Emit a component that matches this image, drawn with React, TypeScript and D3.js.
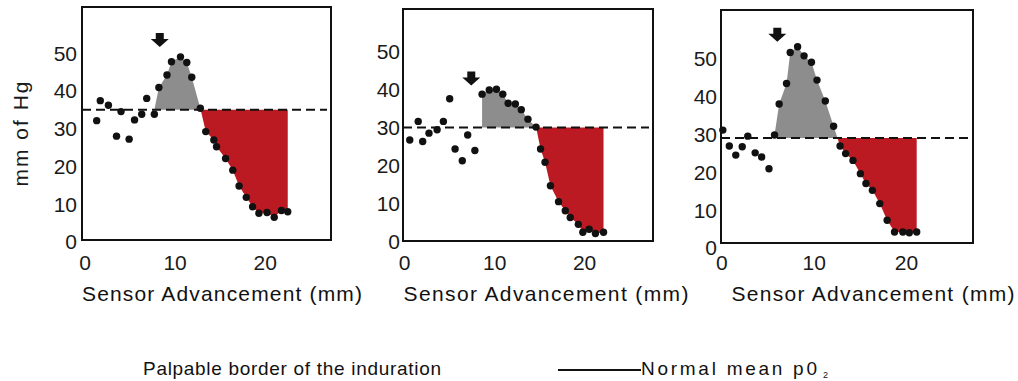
import React from "react";
import * as d3 from "d3";

// ---------- data ----------
const panel1X = [1.3, 1.7, 2.6, 3.5, 4.0, 4.9, 5.5, 6.3, 6.85, 7.7, 8.2, 9.1, 9.6, 10.6, 11.3, 11.85, 12.8, 13.4, 14.3, 14.6, 15.6, 16.4, 17.1, 17.9, 18.6, 19.3, 20.2, 21.0, 21.8, 22.5];
const panel1Y = [32.1, 37.4, 36.2, 28.0, 34.5, 27.2, 32.3, 33.8, 38.0, 33.8, 40.9, 44.2, 47.7, 49.0, 47.5, 43.6, 35.4, 29.2, 27.0, 25.2, 22.1, 19.0, 14.8, 11.8, 9.3, 7.6, 7.8, 6.5, 8.3, 8.0];

const panel2X = [0.56, 1.5, 2.0, 2.7, 3.6, 4.3, 5.0, 5.6, 6.4, 7.0, 7.8, 8.6, 9.4, 10.2, 10.9, 11.5, 12.3, 12.96, 13.7, 14.6, 15.1, 15.6, 16.2, 17.1, 17.85, 18.4, 19.3, 19.8, 20.5, 21.2, 22.1];
const panel2Y = [26.7, 31.6, 26.3, 28.5, 29.4, 31.6, 37.6, 24.3, 21.2, 28.0, 23.9, 38.8, 39.9, 40.1, 38.8, 36.4, 36.2, 34.7, 32.2, 30.1, 24.3, 20.8, 14.6, 10.4, 8.0, 6.2, 4.4, 2.3, 3.1, 2.0, 2.3];

const panel3X = [0.1, 0.8, 1.5, 2.2, 2.8, 3.6, 4.3, 5.1, 5.7, 6.2, 7.0, 7.4, 8.2, 8.9, 9.7, 10.3, 11.2, 12.1, 12.8, 13.4, 14.2, 15.0, 15.6, 16.3, 17.1, 17.9, 18.7, 19.6, 20.3, 21.1];
const panel3Y = [31.1, 26.9, 24.5, 26.7, 29.5, 25.1, 24.0, 20.9, 29.8, 38.0, 43.4, 51.6, 53.1, 50.7, 49.0, 44.3, 38.8, 32.1, 26.9, 24.9, 23.1, 19.6, 17.0, 15.2, 11.7, 7.3, 4.2, 4.2, 4.0, 4.2];

const normalMean = [35, 30, 29];
const greyStartMm = [7.7, 8.6, 5.7];
const arrowMm = [8.3, 7.4, 6.0];
const arrowVal = [51.6, 41.1, 54.4];

const xTicks = [0, 10, 20];
const yTicks = [0, 10, 20, 30, 40, 50];
const xTitle = "Sensor Advancement (mm)";
const yTitle = "mm of Hg";
const legend1 = "Palpable border of the induration";
const legend2 = "Normal mean p0";
const legend2Sub = "2";

// ---------- layout ----------
const layouts = [
  { x0: 82, x1: 331, y0: 7, y1: 240, xd: [-0.33, 27.3], yd: [0.5, 62.2], cx: 222, tl: 280, tickDx: 5 },
  { x0: 403, x1: 653, y0: 9, y1: 241, xd: [-0.19, 27.6], yd: [0, 61.3], cx: 546, tl: 285, tickDx: 3 },
  { x0: 721, x1: 973, y0: 10, y1: 243, xd: [-0.1, 27.2], yd: [1.3, 62.8], cx: 873, tl: 283, tickDx: 4 },
];

const panelsX = [panel1X, panel2X, panel3X];
const panelsY = [panel1Y, panel2Y, panel3Y];

const FONT = "'Liberation Sans', Arial, Helvetica, sans-serif";
const RED = "#bb1a22";
const GREY = "#8d8d8d";

type P = [number, number];

function Panel({ i }: { i: number }) {
  const L = layouts[i];
  const xs = panelsX[i];
  const ys = panelsY[i];
  const base = normalMean[i];
  const x = d3.scaleLinear().domain(L.xd).range([L.x0, L.x1]);
  const y = d3.scaleLinear().domain(L.yd).range([L.y1, L.y0]);

  const pts: P[] = xs.map((v, k) => [v, ys[k]]);
  const start = xs.findIndex((v) => v >= greyStartMm[i] - 1e-9);
  let peak = start;
  for (let k = start; k < pts.length; k++) if (pts[k][1] > pts[peak][1]) peak = k;
  let cross = peak + 1;
  while (cross < pts.length && pts[cross][1] > base) cross++;
  const a = pts[cross - 1];
  const b = pts[cross];
  const t = (a[1] - base) / (a[1] - b[1]);
  const cx: P = [a[0] + t * (b[0] - a[0]), base];

  const greyPts: P[] = [...pts.slice(start, cross), cx];
  const redPts: P[] = [cx, ...pts.slice(cross)];

  const greyArea = d3
    .area<P>()
    .x((d) => x(d[0]))
    .y0(y(base))
    .y1((d) => y(Math.max(d[1], base)));
  const redArea = d3
    .area<P>()
    .x((d) => x(d[0]))
    .y0(y(base))
    .y1((d) => y(Math.min(d[1], base)));

  const ax = x(arrowMm[i]);
  const ay = y(arrowVal[i]);
  const arrow = `M${ax - 4},${ay - 14} L${ax + 4},${ay - 14} L${ax + 4},${ay - 8} L${ax + 9},${ay - 8} L${ax},${ay} L${ax - 9},${ay - 8} L${ax - 4},${ay - 8} Z`;

  return (
    <g>
      <path d={greyArea(greyPts) || ""} fill={GREY} />
      <path d={redArea(redPts) || ""} fill={RED} />
      <line x1={L.x0} x2={L.x1 - 4} y1={y(base)} y2={y(base)} stroke="#111" strokeWidth={2} strokeDasharray="9,5" />
      {pts.map((d, k) => (
        <circle key={k} cx={x(d[0])} cy={y(d[1])} r={3.7} fill="#111" />
      ))}
      <path d={arrow} fill="#111" />
      <rect x={L.x0} y={L.y0} width={L.x1 - L.x0} height={L.y1 - L.y0} fill="none" stroke="#111" strokeWidth={2} />
      {yTicks.map((v) => (
        <text key={"y" + v} x={L.x0 - L.tickDx} y={y(v)} dy="0.36em" textAnchor="end" fontSize={21} fontFamily={FONT} fill="#1a1a1a">
          {v}
        </text>
      ))}
      {xTicks.map((v) => (
        <text key={"x" + v} x={x(v)} y={270} textAnchor="middle" fontSize={21} fontFamily={FONT} fill="#1a1a1a">
          {v}
        </text>
      ))}
      <text x={L.cx} y={301} textAnchor="middle" fontSize={21} fontFamily={FONT} fill="#111" textLength={L.tl} lengthAdjust="spacing">
        {xTitle}
      </text>
    </g>
  );
}

export default function App() {
  return (
    <svg width={1018} height={381} style={{ position: "absolute", left: 0, top: 0, background: "#fff" }}>
      <rect x={0} y={0} width={1018} height={381} fill="#fff" />
      {[0, 1, 2].map((i) => (
        <Panel key={i} i={i} />
      ))}
      <text transform="translate(28,134) rotate(-90)" textAnchor="middle" fontSize={21} fontFamily={FONT} fill="#1a1a1a" textLength={105} lengthAdjust="spacing">
        {yTitle}
      </text>
      <text x={143} y={375} fontSize={19} fontFamily={FONT} fill="#111" textLength={298} lengthAdjust="spacing">
        {legend1}
      </text>
      <line x1={558} x2={641} y1={370} y2={370} stroke="#111" strokeWidth={2} />
      <text x={641} y={375} fontSize={19} fontFamily={FONT} fill="#111" textLength={176} lengthAdjust="spacing">
        {legend2}
      </text>
      <text x={823} y={378} fontSize={9} fontFamily={FONT} fill="#111">
        {legend2Sub}
      </text>
    </svg>
  );
}
